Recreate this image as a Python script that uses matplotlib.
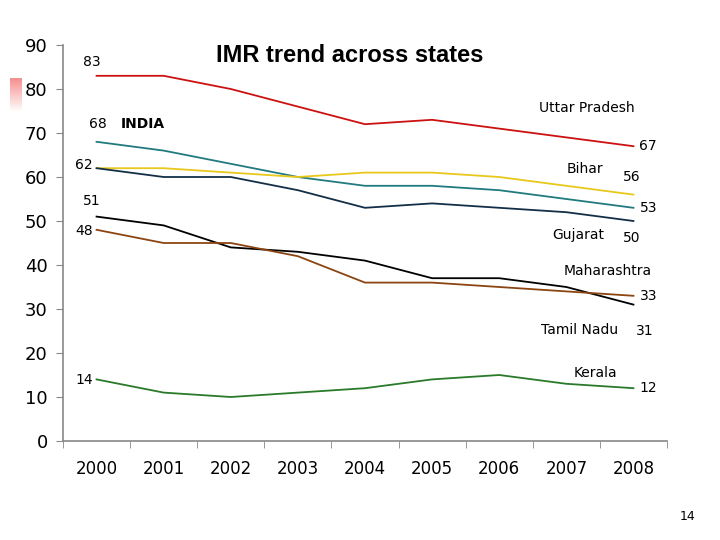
import matplotlib
matplotlib.use("Agg")
import matplotlib.pyplot as plt
import numpy as np

# data
years = ["2000", "2001", "2002", "2003", "2004", "2005", "2006", "2007", "2008"]
uttar_pradesh = [83, 83, 80, 76, 72, 73, 71, 69, 67]
india = [68, 66, 63, 60, 58, 58, 57, 55, 53]
bihar = [62, 62, 61, 60, 61, 61, 60, 58, 56]
gujarat = [62, 60, 60, 57, 53, 54, 53, 52, 50]
maharashtra = [51, 49, 44, 43, 41, 37, 37, 35, 31]
tamil_nadu = [48, 45, 45, 42, 36, 36, 35, 34, 33]
kerala = [14, 11, 10, 11, 12, 14, 15, 13, 12]

series = [
    (uttar_pradesh, "#cc1111"),
    (india, "#217a80"),
    (bihar, "#e8c81a"),
    (gujarat, "#132f48"),
    (maharashtra, "#000000"),
    (tamil_nadu, "#8b4513"),
    (kerala, "#2a7a2a"),
]

fig = plt.figure(figsize=(7.2, 5.4), dpi=100)
ax = fig.add_axes([63 / 720, 1 - 441 / 540, 604 / 720, 396 / 540])

x = np.arange(len(years))
for vals, col in series:
    ax.plot(x, vals, color=col, lw=1.3)

ax.set_xlim(-0.5, 8.5)
ax.set_ylim(0, 90)
ax.set_yticks(range(0, 91, 10))
ax.set_xticks(x)
ax.set_xticklabels(years)
ax.set_xticks(np.arange(-0.5, 9, 1), minor=True)
ax.tick_params(axis="x", which="major", length=0, pad=14, labelsize=12)
ax.tick_params(axis="x", which="minor", length=5, color="#888888")
ax.tick_params(axis="y", length=5, color="#888888", labelsize=13, pad=6)
for s in ["top", "right"]:
    ax.spines[s].set_visible(False)
for s in ["left", "bottom"]:
    ax.spines[s].set_color("#888888")
    ax.spines[s].set_linewidth(1.2)

# start / end labels
fs = 10
ax.text(-0.07, 86.1, "83", fontsize=fs, ha="center", va="center")
ax.text(0.02, 72.0, "68", fontsize=fs, ha="center", va="center")
ax.text(0.69, 72.0, "INDIA", fontsize=fs, ha="center", va="center", fontweight="bold")
ax.text(-0.19, 62.7, "62", fontsize=fs, ha="center", va="center")
ax.text(-0.07, 54.5, "51", fontsize=fs, ha="center", va="center")
ax.text(-0.19, 47.7, "48", fontsize=fs, ha="center", va="center")
ax.text(-0.19, 13.9, "14", fontsize=fs, ha="center", va="center")
ax.text(7.31, 75.7, "Uttar Pradesh", fontsize=fs, ha="center", va="center")
ax.text(8.22, 67.0, "67", fontsize=fs, ha="center", va="center")
ax.text(7.27, 61.8, "Bihar", fontsize=fs, ha="center", va="center")
ax.text(7.98, 60.0, "56", fontsize=fs, ha="center", va="center")
ax.text(8.22, 53.0, "53", fontsize=fs, ha="center", va="center")
ax.text(7.18, 46.8, "Gujarat", fontsize=fs, ha="center", va="center")
ax.text(7.98, 46.1, "50", fontsize=fs, ha="center", va="center")
ax.text(7.62, 38.6, "Maharashtra", fontsize=fs, ha="center", va="center")
ax.text(8.22, 33.0, "33", fontsize=fs, ha="center", va="center")
ax.text(7.19, 25.2, "Tamil Nadu", fontsize=fs, ha="center", va="center")
ax.text(8.17, 25.0, "31", fontsize=fs, ha="center", va="center")
ax.text(7.44, 15.5, "Kerala", fontsize=fs, ha="center", va="center")
ax.text(8.22, 12.0, "12", fontsize=fs, ha="center", va="center")

fig.text(350 / 720, 1 - 55 / 540, "IMR trend across states", fontsize=17,
         fontweight="bold", family="Liberation Sans", ha="center", va="center")
fig.text(688 / 720, 1 - 516 / 540, "14", fontsize=9, ha="center", va="center")

# small red gradient mark on the left
gax = fig.add_axes([10 / 720, 1 - 112 / 540, 12 / 720, 34 / 540])
grad = np.linspace(0, 1, 50).reshape(-1, 1)
rgba = np.zeros((50, 1, 4))
rgba[:, 0, 0] = 0.95
rgba[:, 0, 1] = 0.35
rgba[:, 0, 2] = 0.35
rgba[:, 0, 3] = 0.7 * (1 - grad[:, 0])
gax.imshow(rgba, aspect="auto")
gax.axis("off")

fig.savefig("out.png", dpi=100)
